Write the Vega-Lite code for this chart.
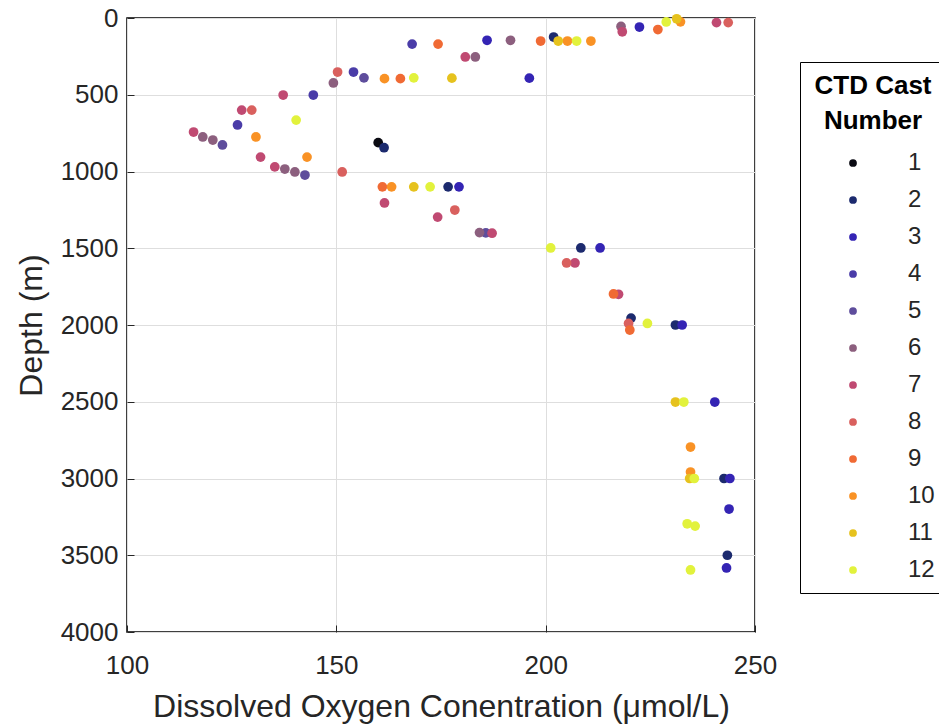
{
  "$schema": "https://vega.github.io/schema/vega-lite/v6.json",
  "width": 628,
  "height": 614,
  "autosize": {"type": "none"},
  "padding": {"left": 127, "top": 18, "right": 184, "bottom": 95},
  "background": "white",
  "config": {
    "view": {"stroke": "black", "strokeWidth": 1.5},
    "font": "Liberation Sans",
    "axis": {
      "domain": false,
      "grid": true,
      "gridColor": "#dedede",
      "gridWidth": 1,
      "tickColor": "#262626",
      "tickSize": -7,
      "labelColor": "#262626",
      "labelFont": "Liberation Sans",
      "labelFontSize": 26,
      "titleColor": "#262626",
      "titleFont": "Liberation Sans",
      "titleFontSize": 32,
      "titleFontWeight": "normal"
    }
  },
  "data": {
    "values": [
      {"cast": 1, "o2": 160.0, "depth": 812},
      {"cast": 2, "o2": 201.9, "depth": 124},
      {"cast": 2, "o2": 161.4, "depth": 845},
      {"cast": 2, "o2": 176.7, "depth": 1100},
      {"cast": 2, "o2": 208.4, "depth": 1498},
      {"cast": 2, "o2": 220.4, "depth": 1955},
      {"cast": 2, "o2": 231.0, "depth": 2000},
      {"cast": 2, "o2": 242.6, "depth": 3000},
      {"cast": 2, "o2": 243.4, "depth": 3500},
      {"cast": 3, "o2": 222.4, "depth": 59},
      {"cast": 3, "o2": 186.0, "depth": 145},
      {"cast": 3, "o2": 196.1, "depth": 392},
      {"cast": 3, "o2": 179.3, "depth": 1100},
      {"cast": 3, "o2": 213.0, "depth": 1498},
      {"cast": 3, "o2": 232.6, "depth": 2000},
      {"cast": 3, "o2": 240.4, "depth": 2502},
      {"cast": 3, "o2": 244.0, "depth": 3000},
      {"cast": 3, "o2": 243.8, "depth": 3199},
      {"cast": 3, "o2": 243.2, "depth": 3583},
      {"cast": 4, "o2": 168.1, "depth": 170},
      {"cast": 4, "o2": 154.1, "depth": 352},
      {"cast": 4, "o2": 144.5, "depth": 502},
      {"cast": 4, "o2": 126.4, "depth": 697},
      {"cast": 5, "o2": 156.6, "depth": 390},
      {"cast": 5, "o2": 122.8, "depth": 827},
      {"cast": 5, "o2": 142.5, "depth": 1023},
      {"cast": 5, "o2": 185.7, "depth": 1400},
      {"cast": 6, "o2": 218.0, "depth": 55},
      {"cast": 6, "o2": 191.6, "depth": 145},
      {"cast": 6, "o2": 183.2, "depth": 254},
      {"cast": 6, "o2": 149.3, "depth": 423},
      {"cast": 6, "o2": 118.1, "depth": 775},
      {"cast": 6, "o2": 120.5, "depth": 795},
      {"cast": 6, "o2": 137.7, "depth": 984},
      {"cast": 6, "o2": 140.1, "depth": 1003},
      {"cast": 6, "o2": 184.2, "depth": 1398},
      {"cast": 7, "o2": 218.3, "depth": 90},
      {"cast": 7, "o2": 240.8, "depth": 30},
      {"cast": 7, "o2": 180.8, "depth": 254},
      {"cast": 7, "o2": 137.3, "depth": 502},
      {"cast": 7, "o2": 127.4, "depth": 600},
      {"cast": 7, "o2": 115.9, "depth": 743},
      {"cast": 7, "o2": 131.9, "depth": 906},
      {"cast": 7, "o2": 135.3, "depth": 970},
      {"cast": 7, "o2": 161.5, "depth": 1205},
      {"cast": 7, "o2": 174.2, "depth": 1297},
      {"cast": 7, "o2": 187.2, "depth": 1402},
      {"cast": 7, "o2": 207.0, "depth": 1596},
      {"cast": 7, "o2": 217.4, "depth": 1800},
      {"cast": 8, "o2": 243.6, "depth": 30},
      {"cast": 8, "o2": 150.3, "depth": 352},
      {"cast": 8, "o2": 129.8, "depth": 600},
      {"cast": 8, "o2": 151.4, "depth": 1003},
      {"cast": 8, "o2": 178.3, "depth": 1251},
      {"cast": 8, "o2": 205.0, "depth": 1596},
      {"cast": 8, "o2": 219.8, "depth": 1990},
      {"cast": 9, "o2": 226.8, "depth": 75},
      {"cast": 9, "o2": 174.3, "depth": 170},
      {"cast": 9, "o2": 198.8, "depth": 150},
      {"cast": 9, "o2": 165.3, "depth": 395},
      {"cast": 9, "o2": 161.0, "depth": 1100},
      {"cast": 9, "o2": 216.2, "depth": 1798},
      {"cast": 9, "o2": 220.1, "depth": 2033},
      {"cast": 10, "o2": 232.2, "depth": 25},
      {"cast": 10, "o2": 205.2, "depth": 150},
      {"cast": 10, "o2": 210.8, "depth": 150},
      {"cast": 10, "o2": 161.5, "depth": 395},
      {"cast": 10, "o2": 130.8, "depth": 775},
      {"cast": 10, "o2": 143.0, "depth": 906},
      {"cast": 10, "o2": 163.2, "depth": 1100},
      {"cast": 10, "o2": 234.6, "depth": 2795},
      {"cast": 10, "o2": 234.6, "depth": 2958},
      {"cast": 11, "o2": 231.3, "depth": 5},
      {"cast": 11, "o2": 203.0, "depth": 150},
      {"cast": 11, "o2": 177.6, "depth": 392},
      {"cast": 11, "o2": 168.5, "depth": 1100},
      {"cast": 11, "o2": 231.0, "depth": 2502},
      {"cast": 11, "o2": 234.4, "depth": 3000},
      {"cast": 12, "o2": 228.8, "depth": 26},
      {"cast": 12, "o2": 207.4, "depth": 150},
      {"cast": 12, "o2": 168.5, "depth": 390},
      {"cast": 12, "o2": 140.4, "depth": 665},
      {"cast": 12, "o2": 172.4, "depth": 1100},
      {"cast": 12, "o2": 201.2, "depth": 1498},
      {"cast": 12, "o2": 224.3, "depth": 1990},
      {"cast": 12, "o2": 233.0, "depth": 2502},
      {"cast": 12, "o2": 235.5, "depth": 3000},
      {"cast": 12, "o2": 233.8, "depth": 3295},
      {"cast": 12, "o2": 235.7, "depth": 3310},
      {"cast": 12, "o2": 234.6, "depth": 3596}
    ]
  },
  "mark": {"type": "circle", "size": 95, "opacity": 1},
  "encoding": {
    "x": {
      "field": "o2",
      "type": "quantitative",
      "title": "Dissolved Oxygen Conentration (μmol/L)",
      "scale": {"domain": [100, 250], "nice": false},
      "axis": {"values": [100, 150, 200, 250], "labelPadding": 27, "titlePadding": 13, "labelFlush": false}
    },
    "y": {
      "field": "depth",
      "type": "quantitative",
      "title": "Depth (m)",
      "scale": {"domain": [0, 4000], "reverse": true, "nice": false},
      "axis": {"values": [0, 500, 1000, 1500, 2000, 2500, 3000, 3500, 4000], "format": "d", "labelPadding": 16, "titlePadding": 12, "labelFlush": false}
    },
    "color": {
      "field": "cast",
      "type": "ordinal",
      "scale": {
        "domain": [1, 2, 3, 4, 5, 6, 7, 8, 9, 10, 11, 12],
        "range": ["#0a0a12", "#1c2a6e", "#3424b4", "#4a3ca8", "#5e4d9c", "#8c5f7e", "#c04a72", "#d9605e", "#f06a34", "#f99225", "#e6c21e", "#e2f23c"]
      },
      "legend": {
        "title": ["CTD Cast", "Number"],
        "orient": "none",
        "legendX": 673,
        "legendY": 44,
        "titleFont": "Liberation Sans",
        "titleFontSize": 26,
        "titleLineHeight": 35,
        "titleFontWeight": "bold",
        "titleColor": "black",
        "titleAnchor": "middle",
        "titleAlign": "center",
        "titlePadding": 17,
        "labelFont": "Liberation Sans",
        "labelFontSize": 24,
        "labelColor": "#262626",
        "labelOffset": 43,
        "symbolOffset": 30,
        "symbolType": "circle",
        "symbolSize": 60,
        "rowPadding": 13,
        "padding": 11,
        "strokeColor": "black",
        "fillColor": "white"
      }
    }
  }
}
